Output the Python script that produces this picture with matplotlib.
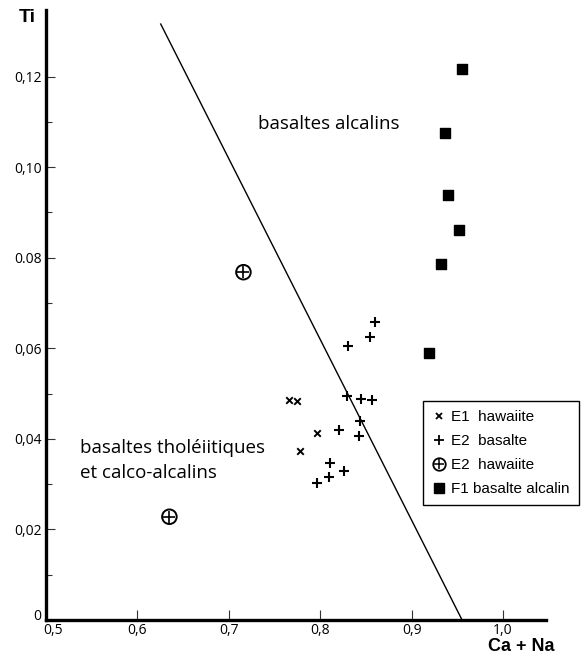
import matplotlib
matplotlib.use("Agg")
import matplotlib.pyplot as plt
import matplotlib.transforms as mtransforms
from matplotlib.lines import Line2D
from matplotlib.legend_handler import HandlerTuple

# E1 hawaiite (x)
e1_x = [0.766, 0.775, 0.796, 0.778]
e1_y = [0.0486, 0.0483, 0.0414, 0.0373]

# E2 basalte (+)
e2b_x = [0.860, 0.855, 0.830, 0.829, 0.845, 0.857, 0.844, 0.820, 0.842, 0.811, 0.826, 0.810, 0.797]
e2b_y = [0.0658, 0.0625, 0.0605, 0.0495, 0.0488, 0.0486, 0.0439, 0.0420, 0.0406, 0.0347, 0.0329, 0.0315, 0.0303]

# E2 hawaiite (circle plus)
e2h_x = [0.716, 0.635]
e2h_y = [0.0768, 0.0228]

# F1 basalte alcalin (squares)
f1_x = [0.955, 0.937, 0.940, 0.952, 0.932, 0.919]
f1_y = [0.1216, 0.1076, 0.0939, 0.0862, 0.0787, 0.0589]

# dividing line
line_x = [0.6255, 0.9552]
line_y = [0.1316, 0.0]

xticks = [0.5, 0.6, 0.7, 0.8, 0.9, 1.0]
xticklabels = ["0,5", "0,6", "0,7", "0,8", "0,9", "1,0"]
yticks = [0, 0.02, 0.04, 0.06, 0.08, 0.10, 0.12]
yticklabels = ["0", "0,02", "0,04", "0,06", "0.08", "0,10", "0,12"]
yminor = [0.01, 0.03, 0.05, 0.07, 0.09, 0.11]

fig = plt.figure(figsize=(5.84, 6.56), dpi=100)
ax = fig.add_axes([46/584, 36/656, 500/584, 610/656])

ax.plot(line_x, line_y, color="black", linewidth=1.0)

ax.scatter(e1_x, e1_y, marker="x", s=22, color="black", linewidths=1.4)
ax.scatter(e2b_x, e2b_y, marker="+", s=55, color="black", linewidths=1.5)
ax.scatter(e2h_x, e2h_y, marker="o", s=110, facecolors="none", edgecolors="black", linewidths=1.4)
ax.scatter(e2h_x, e2h_y, marker="+", s=80, color="black", linewidths=1.2)
ax.scatter(f1_x, f1_y, marker="s", s=55, color="black")

ax.set_xlim(0.5, 1.047)
ax.set_ylim(0, 0.1347)

ax.spines["top"].set_visible(False)
ax.spines["right"].set_visible(False)
ax.spines["left"].set_linewidth(2.4)
ax.spines["bottom"].set_linewidth(2.4)

ax.set_xticks(xticks)
ax.set_xticklabels(xticklabels, fontfamily="Open Sans", fontsize=10)
ax.set_yticks(yticks)
ax.set_yticklabels(yticklabels, fontfamily="Open Sans", fontsize=10)
ax.set_yticks(yminor, minor=True)
ax.tick_params(axis="x", direction="in", length=7, width=0.8, color="#333333", pad=2)
ax.tick_params(axis="y", which="major", direction="in", length=6.5, width=0.8, color="#333333", pad=3)
ax.tick_params(axis="y", which="minor", direction="in", length=4, width=0.8, color="#333333")

# nudge the two labels at the origin like the original
x0 = ax.get_xticklabels()[0]
x0.set_transform(x0.get_transform() + mtransforms.ScaledTranslation(7/100, 0, fig.dpi_scale_trans))
y0 = ax.get_yticklabels()[0]
y0.set_transform(y0.get_transform() + mtransforms.ScaledTranslation(-1/100, 5/100, fig.dpi_scale_trans))

ax.text(0.8095, 0.1095, "basaltes alcalins", fontfamily="Open Sans", fontsize=13.5,
        ha="center", va="center")
ax.text(0.5368, 0.0380, "basaltes tholéiitiques", fontfamily="Open Sans", fontsize=13.5,
        ha="left", va="center")
ax.text(0.5368, 0.0324, "et calco-alcalins", fontfamily="Open Sans", fontsize=13.5,
        ha="left", va="center")

fig.text(27/584, 1 - 17/656, "Ti", fontfamily="Liberation Sans", fontweight="bold",
         fontsize=14, ha="center", va="center")
fig.text(521/584, 1 - 651/656, "Ca + Na", fontfamily="Liberation Sans", fontweight="bold",
         fontsize=13, ha="center", va="baseline")

h1 = Line2D([], [], marker="x", linestyle="none", color="black", markersize=4.5, markeredgewidth=1.3)
h2 = Line2D([], [], marker="+", linestyle="none", color="black", markersize=6.5, markeredgewidth=1.3)
h3a = Line2D([], [], marker="o", linestyle="none", markerfacecolor="none", markeredgecolor="black",
             markersize=9, markeredgewidth=1.3)
h3b = Line2D([], [], marker="+", linestyle="none", color="black", markersize=7, markeredgewidth=1.1)
h4 = Line2D([], [], marker="s", linestyle="none", color="black", markersize=6.5)

leg = ax.legend([h1, h2, (h3a, h3b), h4],
                ["E1  hawaiite", "E2  basalte", "E2  hawaiite", "F1 basalte alcalin"],
                handler_map={tuple: HandlerTuple(ndivide=1, pad=0)},
                loc="upper left", bbox_to_anchor=(423/584, 1 - 401/656),
                bbox_transform=fig.transFigure,
                prop={"family": "Liberation Sans", "size": 11},
                frameon=True, fancybox=False, edgecolor="black", framealpha=1,
                borderpad=0.6, labelspacing=0.65, handlelength=0.9, handletextpad=0.35,
                borderaxespad=0)
leg.get_frame().set_linewidth(1.0)

fig.savefig("out.png", dpi=100)
